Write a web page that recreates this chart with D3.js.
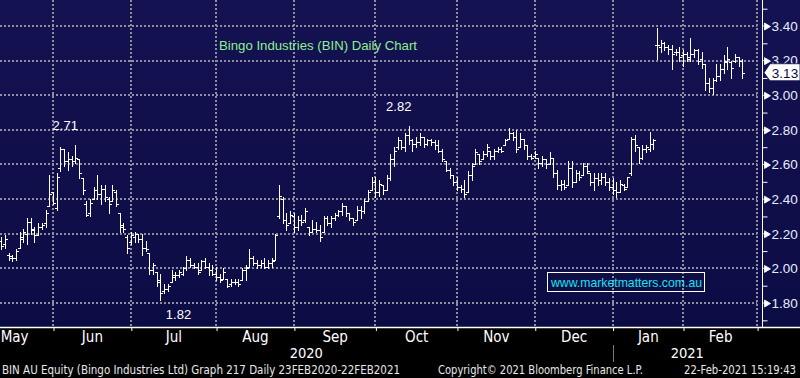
<!DOCTYPE html>
<html><head><meta charset="utf-8">
<script src="https://cdn.jsdelivr.net/npm/d3@7/dist/d3.min.js"></script>
<style>html,body{margin:0;padding:0;background:#000;overflow:hidden}svg{display:block}</style>
</head><body>
<svg id="c" width="800" height="378"></svg>
<script>
// ---- DATA ----
// Trading-day index of first bar, relative to 1 Jun 2020 (index 0)
const firstIndex = -14;
const open = [
2.16,2.14,2.08,2.06,2.06,2.12,2.17,2.20,2.27,2.23,
2.19,2.24,2.26,2.36,2.44,2.35,2.58,2.69,2.62,2.63,
2.62,2.63,2.52,2.37,2.32,2.40,2.45,2.43,2.46,2.40,
2.39,2.44,2.32,2.24,2.18,2.15,2.18,2.20,2.17,2.12,
2.09,1.99,1.98,1.93,1.87,1.88,1.92,1.95,1.96,1.97,
2.00,2.05,2.02,2.01,1.99,2.04,2.01,1.99,1.97,1.95,
1.94,1.94,1.91,1.92,1.92,1.93,1.99,2.01,2.06,2.03,
2.02,2.03,2.01,2.03,2.05,2.30,2.40,2.28,2.26,2.30,
2.24,2.28,2.28,2.24,2.21,2.23,2.22,2.21,2.29,2.26,
2.29,2.31,2.33,2.36,2.32,2.29,2.28,2.34,2.33,2.39,
2.45,2.50,2.44,2.48,2.45,2.52,2.63,2.70,2.74,2.70,
2.77,2.74,2.72,2.73,2.76,2.72,2.74,2.73,2.71,2.68,
2.62,2.57,2.54,2.50,2.47,2.46,2.44,2.54,2.60,2.66,
2.63,2.66,2.68,2.65,2.68,2.69,2.71,2.75,2.78,2.76,
2.70,2.75,2.71,2.65,2.65,2.64,2.61,2.63,2.60,2.64,
2.55,2.48,2.49,2.48,2.58,2.50,2.55,2.54,2.59,2.55,
2.50,2.52,2.51,2.53,2.50,2.47,2.45,2.44,2.48,2.47,
2.55,2.75,2.70,2.64,2.69,2.69,2.72,3.29,3.28,3.30,
3.28,3.27,3.25,3.25,3.23,3.24,3.21,3.24,3.26,3.21,
3.18,3.07,3.04,3.09,3.11,3.15,3.19,3.19,3.20,3.22,3.20];
const high = [
2.18,2.19,2.09,2.08,2.11,2.21,2.23,2.29,2.29,2.24,
2.26,2.26,2.34,2.54,2.44,2.55,2.70,2.69,2.67,2.65,
2.71,2.63,2.52,2.39,2.40,2.47,2.54,2.48,2.48,2.41,
2.48,2.45,2.32,2.26,2.19,2.21,2.21,2.20,2.20,2.16,
2.09,2.03,1.98,1.97,1.91,1.91,1.99,1.98,1.99,2.01,
2.07,2.06,2.03,2.03,2.05,2.06,2.03,2.02,2.01,1.97,
2.00,1.94,1.94,1.94,1.94,2.00,2.02,2.11,2.07,2.05,
2.05,2.06,2.05,2.06,2.20,2.48,2.41,2.32,2.33,2.32,
2.30,2.31,2.35,2.24,2.28,2.27,2.25,2.30,2.30,2.30,
2.32,2.34,2.38,2.36,2.32,2.29,2.36,2.36,2.40,2.45,
2.53,2.53,2.51,2.48,2.54,2.66,2.70,2.76,2.74,2.78,
2.82,2.75,2.76,2.78,2.76,2.75,2.75,2.74,2.74,2.69,
2.62,2.58,2.54,2.53,2.48,2.51,2.56,2.61,2.69,2.66,
2.68,2.72,2.68,2.69,2.70,2.70,2.75,2.81,2.79,2.80,
2.78,2.75,2.71,2.66,2.68,2.64,2.65,2.63,2.67,2.64,
2.57,2.51,2.51,2.62,2.62,2.57,2.56,2.61,2.61,2.55,
2.55,2.55,2.55,2.55,2.52,2.52,2.50,2.51,2.49,2.53,
2.76,2.77,2.70,2.71,2.71,2.79,2.75,3.39,3.32,3.31,
3.29,3.29,3.27,3.28,3.26,3.25,3.33,3.27,3.27,3.25,
3.18,3.10,3.10,3.18,3.18,3.23,3.28,3.20,3.24,3.22,3.21];
const low = [
2.11,2.12,2.05,2.04,2.05,2.12,2.15,2.14,2.20,2.15,
2.19,2.23,2.24,2.36,2.37,2.34,2.56,2.59,2.57,2.59,
2.61,2.52,2.43,2.30,2.30,2.40,2.40,2.37,2.39,2.32,
2.39,2.36,2.21,2.21,2.09,2.14,2.15,2.15,2.08,2.10,
1.97,1.97,1.90,1.82,1.86,1.87,1.92,1.93,1.95,1.96,
1.99,2.01,2.00,1.97,1.99,2.00,1.96,1.96,1.93,1.92,
1.94,1.89,1.90,1.91,1.90,1.93,1.93,2.01,2.02,2.00,
2.01,2.00,2.00,2.01,2.05,2.29,2.26,2.22,2.26,2.21,
2.22,2.25,2.27,2.19,2.21,2.21,2.16,2.21,2.25,2.24,
2.28,2.30,2.31,2.30,2.28,2.25,2.28,2.29,2.32,2.39,
2.45,2.41,2.42,2.43,2.45,2.51,2.59,2.69,2.69,2.68,
2.72,2.68,2.70,2.71,2.70,2.71,2.71,2.69,2.67,2.62,
2.56,2.52,2.48,2.45,2.44,2.41,2.44,2.51,2.60,2.60,
2.63,2.65,2.63,2.63,2.67,2.67,2.71,2.75,2.74,2.67,
2.70,2.69,2.63,2.63,2.64,2.58,2.59,2.58,2.60,2.53,
2.46,2.45,2.46,2.48,2.47,2.50,2.51,2.54,2.55,2.48,
2.45,2.48,2.49,2.48,2.45,2.43,2.41,2.44,2.45,2.47,
2.54,2.68,2.61,2.63,2.67,2.68,2.69,3.21,3.25,3.26,
3.24,3.15,3.23,3.20,3.17,3.20,3.20,3.22,3.18,3.16,
3.03,3.02,3.01,3.08,3.09,3.13,3.15,3.10,3.19,3.17,3.10];
const close = [
2.13,2.17,2.07,2.06,2.10,2.18,2.21,2.27,2.22,2.19,
2.24,2.25,2.32,2.43,2.38,2.53,2.69,2.62,2.63,2.62,
2.64,2.55,2.45,2.31,2.38,2.45,2.43,2.46,2.41,2.37,
2.45,2.37,2.25,2.23,2.12,2.19,2.20,2.17,2.12,2.11,
1.99,2.02,1.92,1.86,1.88,1.90,1.96,1.96,1.98,2.00,
2.05,2.02,2.01,1.98,2.04,2.01,1.99,1.97,1.95,1.93,
1.98,1.90,1.92,1.92,1.91,1.99,2.00,2.06,2.03,2.02,
2.03,2.01,2.03,2.04,2.19,2.42,2.28,2.25,2.31,2.24,
2.28,2.27,2.33,2.21,2.23,2.22,2.18,2.29,2.26,2.29,
2.31,2.33,2.36,2.32,2.29,2.27,2.34,2.33,2.39,2.44,
2.50,2.44,2.49,2.45,2.52,2.63,2.68,2.74,2.70,2.77,
2.74,2.72,2.73,2.76,2.72,2.74,2.73,2.71,2.68,2.63,
2.57,2.54,2.50,2.47,2.46,2.43,2.54,2.59,2.67,2.62,
2.66,2.70,2.65,2.68,2.69,2.68,2.74,2.78,2.76,2.69,
2.75,2.71,2.65,2.64,2.66,2.61,2.63,2.60,2.64,2.55,
2.48,2.49,2.47,2.58,2.50,2.55,2.53,2.59,2.56,2.50,
2.52,2.51,2.53,2.50,2.47,2.45,2.44,2.49,2.46,2.53,
2.75,2.71,2.64,2.69,2.70,2.72,2.74,3.29,3.30,3.28,
3.27,3.24,3.25,3.22,3.24,3.22,3.24,3.26,3.20,3.18,
3.07,3.04,3.09,3.11,3.15,3.20,3.21,3.16,3.22,3.20,3.13];

const monthLabels = ["May","Jun","Jul","Aug","Sep","Oct","Nov","Dec","Jan","Feb"];
const monthStarts = [-21,0,21,44,65,87,109,130,151,170,190]; // trading-day index of month starts
const yearLabels = ["2020","2021"];
const yearStart2021 = 151;
const yTicks = [1.8,2.0,2.2,2.4,2.6,2.8,3.0,3.2,3.4];
const yMinor = [1.7,1.9,2.1,2.3,2.5,2.7,2.9,3.1,3.3,3.5];
const markers = [{idx:6, kind:"high"},{idx:96, kind:"high"},{idx:29, kind:"low"}];

const titleText = "Bingo Industries (BIN) Daily Chart";
const watermark = "www.marketmatters.com.au";
const footerLeft = "BIN AU Equity (Bingo Industries Ltd) Graph 217  Daily 23FEB2020-22FEB2021";
const footerMid = "Copyright\u00A9 2021 Bloomberg Finance L.P.";
const footerRight = "22-Feb-2021 15:19:43";

// ---- CHART ----
const svg = d3.select("#c");
const W = 800, H = 378, plotBottom = 327, axisX = 762;
const x = d3.scaleLinear().domain([0,170]).range([53,683]);
const y = d3.scaleLinear().domain([1.8,3.4]).range([303,26]);
const narrow = "'Liberation Sans Narrow','DejaVu Sans Condensed','Arial Narrow',sans-serif";
const sans = "'Liberation Sans',Arial,sans-serif";

const defs = svg.append("defs");
const g = defs.append("linearGradient").attr("id","bg").attr("x1",0).attr("y1",0).attr("x2",0).attr("y2",1);
g.append("stop").attr("offset","0%").attr("stop-color","#141251");
g.append("stop").attr("offset","100%").attr("stop-color","#0c0c45");

svg.append("rect").attr("width",W).attr("height",plotBottom).attr("fill","url(#bg)");
svg.append("rect").attr("y",plotBottom).attr("width",W).attr("height",H-plotBottom).attr("fill","#000");

const gridCol = "#8e8e9e";
const xEnd = x(monthStarts[monthStarts.length-1]);
// horizontal grid
svg.append("g").selectAll("line").data(yTicks).join("line")
  .attr("x1",0).attr("x2",xEnd)
  .attr("y1",d=>Math.round(y(d))).attr("y2",d=>Math.round(y(d)))
  .attr("stroke",gridCol).attr("stroke-width",2).attr("stroke-dasharray","2,2");
// vertical grid
svg.append("g").selectAll("line").data(monthStarts.filter(d=>x(d)>0)).join("line")
  .attr("x1",d=>Math.round(x(d))).attr("x2",d=>Math.round(x(d)))
  .attr("y1",0).attr("y2",plotBottom)
  .attr("stroke",gridCol).attr("stroke-width",2).attr("stroke-dasharray","2,2");

// bars
const bars = open.map((o,k)=>({i:firstIndex+k,o,h:high[k],l:low[k],c:close[k]}));
svg.append("g").selectAll("path").data(bars).join("path")
  .attr("d",d=>{
    const cx = Math.round(x(d.i))+0.5;
    const yo = Math.round(y(d.o))+0.5, yc = Math.round(y(d.c))+0.5;
    return `M${cx},${Math.round(y(d.h))}V${Math.round(y(d.l))+1}`+
           `M${cx-2.5},${yo}H${cx}M${cx},${yc}H${cx+2.5}`;
  })
  .attr("stroke","#fff").attr("stroke-width",1).attr("fill","none");

// markers
markers.forEach(m=>{
  const k = m.idx-firstIndex;
  const v = m.kind==="high"?high[k]:low[k];
  svg.append("text")
    .attr("x", m.kind==="high"? x(m.idx)-10 : x(m.idx)+18)
    .attr("y", m.kind==="high"? y(v)-15 : y(v)+19)
    .attr("text-anchor","middle").attr("fill","#fff")
    .attr("font-family",sans).attr("font-size",13).text(v.toFixed(2));
});

// title
svg.append("text").attr("x",219).attr("y",50).attr("fill","#8ef08e")
  .attr("font-family",sans).attr("font-size",13)
  .attr("textLength",198).attr("lengthAdjust","spacingAndGlyphs").text(titleText);

// watermark
svg.append("rect").attr("x",547.5).attr("y",272.5).attr("width",157).attr("height",19)
  .attr("fill","none").attr("stroke","#fff").attr("stroke-width",1);
svg.append("text").attr("x",551).attr("y",287).attr("fill","#19e3f0")
  .attr("font-family",sans).attr("font-size",13)
  .attr("textLength",151).attr("lengthAdjust","spacingAndGlyphs").text(watermark);

// right axis
svg.append("line").attr("x1",axisX+0.5).attr("x2",axisX+0.5).attr("y1",0).attr("y2",plotBottom)
  .attr("stroke","#fff").attr("stroke-width",1);
const minorAxis = d3.axisRight(y).tickValues(yMinor).tickSize(5).tickFormat("");
const gm = svg.append("g").attr("transform",`translate(${axisX+0.5},0)`).call(minorAxis);
gm.select(".domain").remove();
gm.selectAll("line").attr("stroke","#fff");
const majorAxis = d3.axisRight(y).tickValues(yTicks).tickSize(0).tickPadding(9).tickFormat(d3.format(".2f"));
const ga = svg.append("g").attr("transform",`translate(${axisX+0.5},0)`).call(majorAxis);
ga.select(".domain").remove();
ga.selectAll(".tick text").attr("fill","#e6ecff").attr("font-family",sans).attr("font-size",13.5);
ga.selectAll(".tick").append("path").attr("d","M0,-0.5H3M2,-3.5L8,0L2,3.5Z").attr("fill","#fff").attr("stroke","#fff").attr("stroke-width",0.8);

// last price tag
const last = close[close.length-1];
const ly = y(last);
svg.append("path").attr("d",`M764,${ly}L770,${ly-9}H800V${ly+8}H770Z`).attr("fill","#fff").attr("stroke","#0c0c45").attr("stroke-width",0.8);
svg.append("text").attr("x",785).attr("y",ly+5).attr("text-anchor","middle").attr("fill","#0c0c45")
  .attr("font-family",sans).attr("font-size",13.5).text(last.toFixed(2));

// bottom axis
svg.append("line").attr("x1",0).attr("x2",W).attr("y1",plotBottom+0.5).attr("y2",plotBottom+0.5)
  .attr("stroke","#fff").attr("stroke-width",1.5);
const xTickAxis = d3.axisBottom(x).tickValues(monthStarts.filter(d=>x(d)>0)).tickSize(4).tickFormat("");
const gx = svg.append("g").attr("transform",`translate(0.5,${plotBottom})`).call(xTickAxis);
gx.select(".domain").remove(); gx.selectAll("line").attr("stroke","#fff");
const mids = monthLabels.map((m,k)=>(monthStarts[k]+monthStarts[k+1])/2);
const xLabAxis = d3.axisBottom(x).tickValues(mids).tickSize(0).tickPadding(0)
  .tickFormat((d,k)=>monthLabels[k]);
const gl = svg.append("g").attr("transform",`translate(0,${plotBottom})`).call(xLabAxis);
gl.select(".domain").remove();
gl.selectAll(".tick text").attr("fill","#fff").attr("font-family",narrow).attr("font-size",15)
  .attr("dy",null).attr("y",15);

// years
const xb = x(yearStart2021);
svg.append("line").attr("x1",Math.round(xb)+0.5).attr("x2",Math.round(xb)+0.5).attr("y1",345).attr("y2",362)
  .attr("stroke","#777").attr("stroke-width",1);
[[0,xb],[xb,axisX]].forEach((r,k)=>{
  svg.append("text").attr("x",(r[0]+r[1])/2).attr("y",358).attr("text-anchor","middle")
    .attr("fill","#fff").attr("font-family",narrow).attr("font-size",14.5).text(yearLabels[k]);
});

// footer
svg.append("text").attr("x",2).attr("y",374).attr("fill","#e8e8e8").attr("font-family",narrow).attr("font-size",12.5)
  .attr("textLength",398).attr("lengthAdjust","spacingAndGlyphs").text(footerLeft);
svg.append("text").attr("x",438).attr("y",374).attr("fill","#e8e8e8").attr("font-family",narrow).attr("font-size",12.5)
  .attr("textLength",205).attr("lengthAdjust","spacingAndGlyphs").text(footerMid);
svg.append("text").attr("x",684).attr("y",374).attr("fill","#e8e8e8").attr("font-family",narrow).attr("font-size",12.5)
  .attr("textLength",112).attr("lengthAdjust","spacingAndGlyphs").text(footerRight);
</script>
</body></html>
